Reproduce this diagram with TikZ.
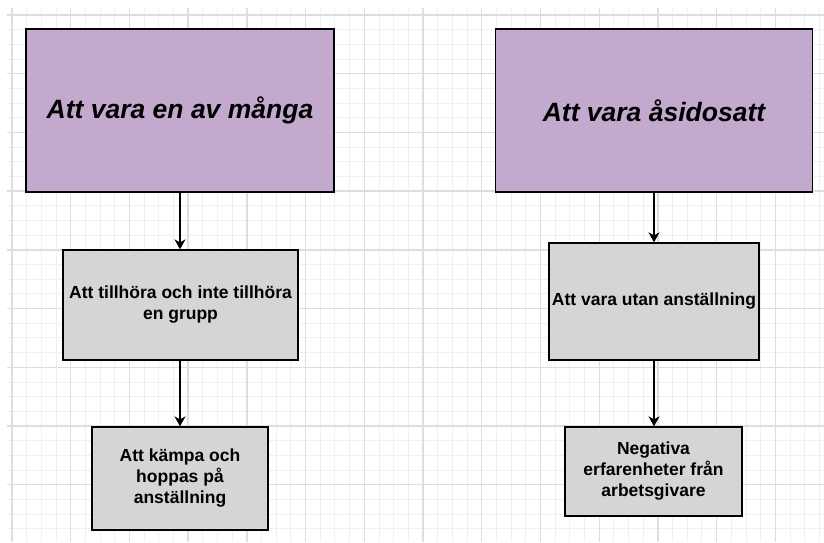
\documentclass[tikz,border=0pt]{standalone}
\usepackage{fontspec}
\setmainfont{Liberation Sans}
\usetikzlibrary{arrows.meta}
\definecolor{purplefill}{HTML}{C3A9CE}
\definecolor{grayfill}{HTML}{D5D5D5}
\definecolor{gridmajor}{HTML}{DEDEDE}
\definecolor{gridminor}{HTML}{F0F0F0}
\tikzset{
  titlebox/.style={draw=black, line width=1.3pt, fill=purplefill, inner sep=0pt,
    font=\fontsize{26.5}{31}\selectfont\bfseries\itshape, align=center},
  subbox/.style={draw=black, line width=1.3pt, fill=grayfill, inner sep=0pt,
    font=\fontsize{17.5}{21}\selectfont\bfseries, align=center},
  conn/.style={line width=1.3pt, -{Stealth[length=10pt,width=11pt,inset=3pt]}},
  minorline/.style={draw=gridminor, line width=1pt},
  majorline/.style={draw=gridmajor, line width=1.4pt}
}
\begin{document}
\begin{tikzpicture}[x=1pt,y=-1pt]
\useasboundingbox (0,0) rectangle (824,542);
\fill[white] (0,0) rectangle (824,542);
% grid
\foreach \i in {0,...,55} {
  \draw[minorline] ({12+\i*14.68},8) -- ({12+\i*14.68},542);
}
\foreach \j in {0,...,36} {
  \draw[minorline] (7,{15+\j*14.68}) -- (824,{15+\j*14.68});
}
\foreach \i in {0,...,13} {
  \draw[majorline] ({12+\i*58.72},8) -- ({12+\i*58.72},542);
}
\foreach \j in {0,...,9} {
  \draw[majorline] (7,{15+\j*58.72}) -- (824,{15+\j*58.72});
}
% boxes
\node[titlebox, minimum width=308pt, minimum height=163pt] (b1) at (180,110.5) {Att vara en av många};
\node[titlebox, minimum width=317pt, minimum height=163pt] (b2) at (654,110.5) {Att vara åsidosatt};
\node[subbox, minimum width=235pt, minimum height=110pt] (b3) at (180.5,305) {Att tillhöra och inte tillhöra\\en grupp};
\node[subbox, minimum width=210pt, minimum height=117pt] (b4) at (654,301.5) {Att vara utan anställning};
\node[subbox, minimum width=176pt, minimum height=103pt] (b5) at (180,478.5) {Att kämpa och\\hoppas på\\anställning};
\node[subbox, minimum width=177pt, minimum height=89pt] (b6) at (653.5,471.5) {Negativa\\erfarenheter från\\arbetsgivare};
% connectors
\draw[conn] (b1.south) -- (b1.south |- b3.north);
\draw[conn] (b2.south) -- (b2.south |- b4.north);
\draw[conn] (b3.south -| b1.south) -- (b1.south |- b5.north);
\draw[conn] (b4.south) -- (b4.south |- b6.north);
\end{tikzpicture}
\end{document}
